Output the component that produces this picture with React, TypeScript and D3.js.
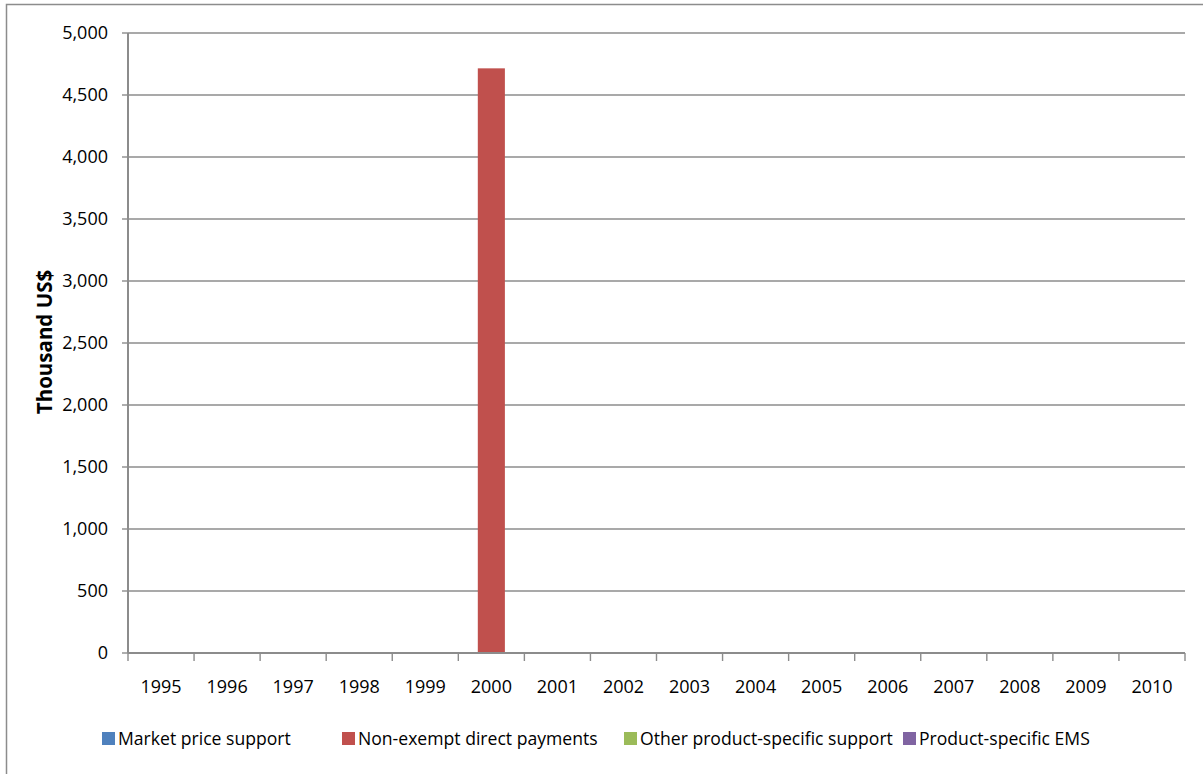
import React from "react";
import * as d3 from "d3";

const years = ["1995","1996","1997","1998","1999","2000","2001","2002","2003","2004","2005","2006","2007","2008","2009","2010"];
const seriesNames = ["Market price support", "Non-exempt direct payments", "Other product-specific support", "Product-specific EMS"];
const seriesColors = ["#4f81bd", "#c0504d", "#9bbb59", "#8064a2"];
const marketPrice = [0,0,0,0,0,0,0,0,0,0,0,0,0,0,0,0];
const nonExempt = [0,0,0,0,0,4715,0,0,0,0,0,0,0,0,0,0];
const otherSpecific = [0,0,0,0,0,0,0,0,0,0,0,0,0,0,0,0];
const productEMS = [0,0,0,0,0,0,0,0,0,0,0,0,0,0,0,0];
const yTicks = [0,500,1000,1500,2000,2500,3000,3500,4000,4500,5000];

const W = 1203, H = 774;
const left = 128, right = 1185, top = 33, bottom = 653;
const font = "'Open Sans', sans-serif";

export default function App() {
  const x = d3.scaleBand<string>().domain(years).range([left, right]).paddingInner(0.59).paddingOuter(0.295);
  const xc = d3.scaleBand<string>().domain(years).range([left, right]);
  const y = d3.scaleLinear().domain([0, 5000]).range([bottom, top]);
  const fmt = d3.format(",");
  const all = [marketPrice, nonExempt, otherSpecific, productEMS];
  const rows = years.map((yr, i) => {
    const r: any = { year: yr };
    seriesNames.forEach((s, k) => (r[s] = all[k][i]));
    return r;
  });
  const stacked = d3.stack().keys(seriesNames)(rows);
  const legendX = [102, 342, 624, 903];
  const bandW = xc.bandwidth();
  return (
    <svg width={W} height={H} style={{ position: "absolute", left: 0, top: 0 }}>
      <rect x={0} y={0} width={W} height={H} fill="#fff" />
      <rect x={6.5} y={4.5} width={W + 10} height={H + 10} fill="none" stroke="#8c8c8c" strokeWidth={1.5} />
      {yTicks.map((t) => (
        <g key={t}>
          {t > 0 && <line x1={left} x2={right} y1={y(t)} y2={y(t)} stroke="#8c8c8c" strokeWidth={1.4} />}
          <line x1={left - 6} x2={left} y1={y(t)} y2={y(t)} stroke="#8c8c8c" strokeWidth={1.4} />
          <text x={108} y={y(t)} dy="0.35em" textAnchor="end" fontFamily={font} fontSize={18} fill="#000">{fmt(t)}</text>
        </g>
      ))}
      {stacked.map((s, k) => (
        <g key={k} fill={seriesColors[k]}>
          {s.map((d, i) => (
            d[1] - d[0] > 0 ? <rect key={i} x={x(years[i])} width={x.bandwidth()} y={y(d[1])} height={y(d[0]) - y(d[1])} /> : null
          ))}
        </g>
      ))}
      <line x1={left} x2={left} y1={top} y2={bottom} stroke="#8c8c8c" strokeWidth={2} />
      <line x1={left} x2={right} y1={bottom} y2={bottom} stroke="#8c8c8c" strokeWidth={2} />
      {years.map((yr, i) => (
        <line key={"t" + i} x1={xc(yr)!} x2={xc(yr)!} y1={bottom} y2={bottom + 8} stroke="#8c8c8c" strokeWidth={1.4} />
      ))}
      <line x1={right} x2={right} y1={bottom} y2={bottom + 8} stroke="#8c8c8c" strokeWidth={1.4} />
      {years.map((yr) => (
        <text key={yr} x={xc(yr)! + bandW / 2} y={693} textAnchor="middle" fontFamily={font} fontSize={18} fill="#000">{yr}</text>
      ))}
      <text transform={`translate(52,342) rotate(-90)`} textAnchor="middle" fontFamily={font} fontWeight="bold" fontSize={20.5} fill="#000">Thousand US$</text>
      {seriesNames.map((s, k) => (
        <g key={s}>
          <rect x={legendX[k]} y={732} width={13} height={13} fill={seriesColors[k]} />
          <text x={legendX[k] + 16} y={745} fontFamily={font} fontSize={17.6} fill="#000">{s}</text>
        </g>
      ))}
    </svg>
  );
}
